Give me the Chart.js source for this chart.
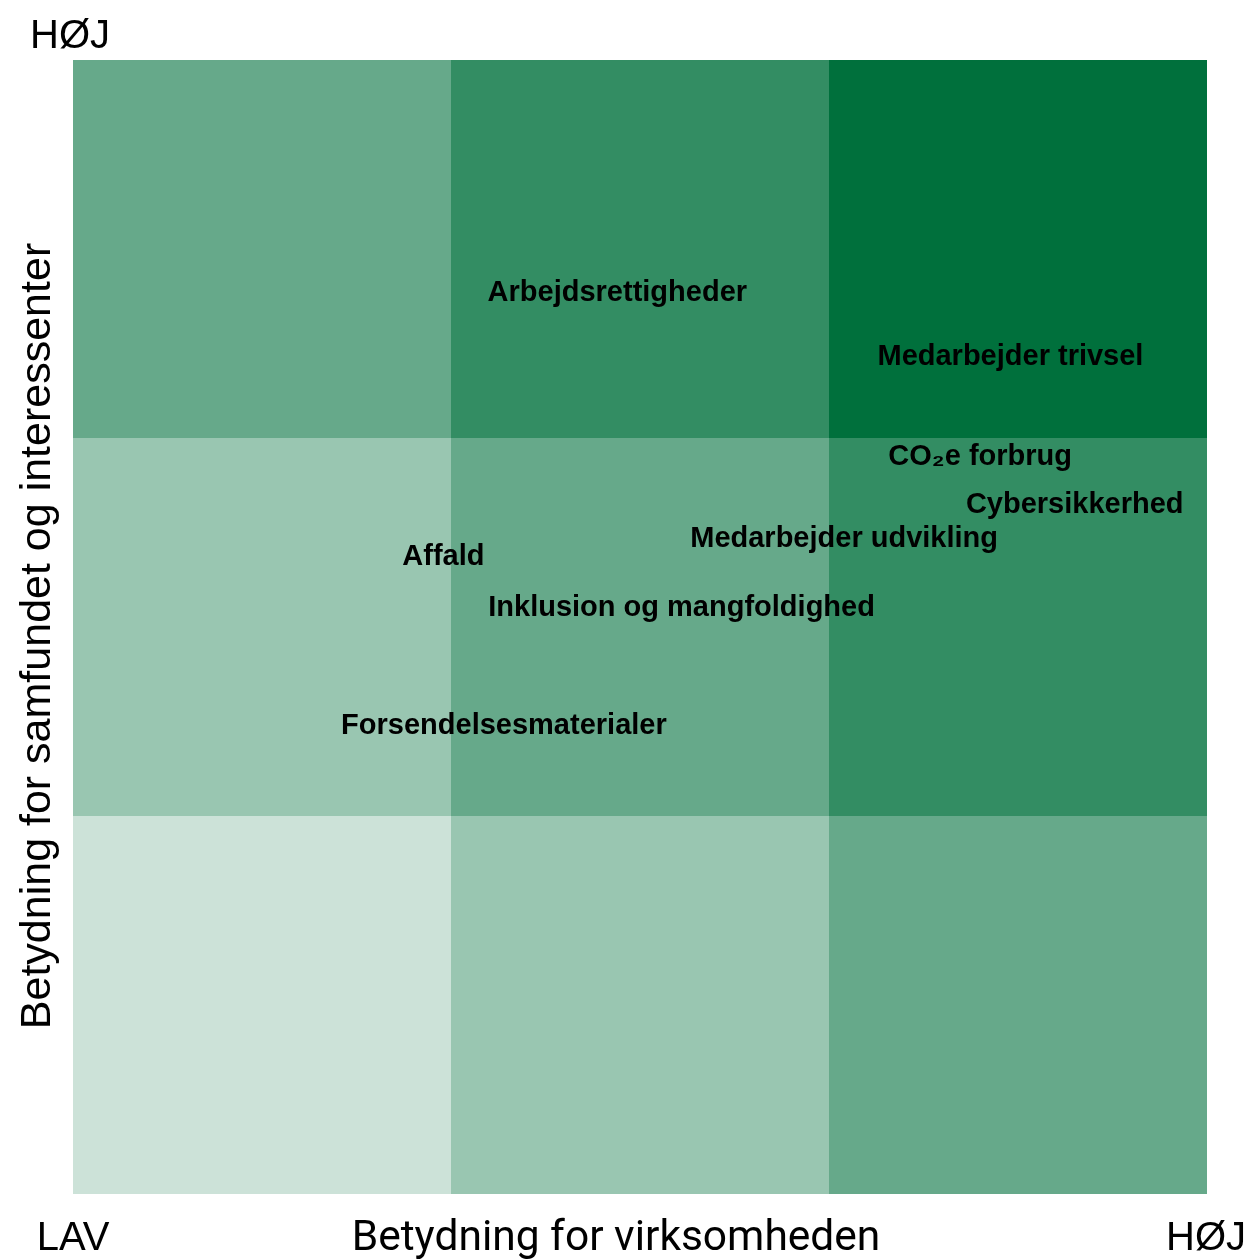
<!DOCTYPE html>
<html>
<head>
<meta charset="utf-8">
<script src="https://cdn.jsdelivr.net/npm/chart.js@4.4.1/dist/chart.umd.min.js"></script>
<style>
  html, body { margin: 0; padding: 0; background: #fff; }
  #wrap { width: 1250px; height: 1259px; }
</style>
</head>
<body>
<div id="wrap"><canvas id="chartCanvas"></canvas></div>
<script>
// materiality matrix data
const topics = [
    'Arbejdsrettigheder',
    'Medarbejder trivsel',
    'CO₂e forbrug',
    'Cybersikkerhed',
    'Medarbejder udvikling',
    'Affald',
    'Inklusion og mangfoldighed',
    'Forsendelsesmaterialer'
];
const businessImpact = [1.44, 2.48, 2.40, 2.65, 2.04, 0.98, 1.61, 1.14];
const societyImpact = [2.384, 2.215, 1.95, 1.823, 1.733, 1.685, 1.551, 1.238];

// grid: 3 x 3 cells, row 0 = bottom
const gridSteps = [0, 1, 2, 3];
const cellOpacity = [
    [0.2, 0.4, 0.6],
    [0.4, 0.6, 0.8],
    [0.6, 0.8, 1.0]
];
const axisEnds = ['LAV', 'HØJ'];
const xTitle = 'Betydning for virksomheden';
const yTitle = 'Betydning for samfundet og interessenter';

const baseGreen = [0, 112, 60];
const fontFamily = "'Liberation Sans', Arial, sans-serif";

const gridPlugin = {
    id: 'gridCells',
    beforeDatasetsDraw(chart) {
        const { ctx, scales: { x, y } } = chart;
        ctx.save();
        for (let r = 0; r < 3; r++) {
            for (let c = 0; c < 3; c++) {
                const x0 = x.getPixelForValue(gridSteps[c]);
                const x1 = x.getPixelForValue(gridSteps[c + 1]);
                const y0 = y.getPixelForValue(gridSteps[r + 1]);
                const y1 = y.getPixelForValue(gridSteps[r]);
                ctx.fillStyle = `rgba(${baseGreen.join(',')},${cellOpacity[r][c]})`;
                ctx.fillRect(x0, y0, x1 - x0, y1 - y0);
            }
        }
        ctx.restore();
    }
};

const labelPlugin = {
    id: 'pointLabels',
    afterDatasetsDraw(chart) {
        const { ctx } = chart;
        const meta = chart.getDatasetMeta(0);
        ctx.save();
        ctx.fillStyle = '#000';
        ctx.font = 'bold 29px ' + fontFamily;
        ctx.textAlign = 'center';
        ctx.textBaseline = 'middle';
        meta.data.forEach((pt, i) => {
            ctx.fillText(topics[i], pt.x, pt.y);
        });
        ctx.restore();
    }
};

const frameTextPlugin = {
    id: 'frameText',
    afterDraw(chart) {
        const { ctx, scales: { x } } = chart;
        ctx.save();
        ctx.fillStyle = '#000';
        ctx.font = '40px ' + fontFamily;
        ctx.textBaseline = 'alphabetic';
        ctx.textAlign = 'center';

        // top of y axis
        ctx.fillText(axisEnds[1], 70, 48);

        // bottom row
        ctx.fillText(axisEnds[0], x.getPixelForValue(0), 1250);
        ctx.fillText(axisEnds[1], 1206, 1250);
        ctx.font = '42.5px Roboto, sans-serif';
        ctx.fillText(xTitle, 616, 1250);

        // rotated y title
        ctx.font = '43px ' + fontFamily;
        ctx.translate(50, 636);
        ctx.rotate(-Math.PI / 2);
        ctx.fillText(yTitle, 0, 0);
        ctx.restore();
    }
};

const canvas = document.getElementById('chartCanvas');
const ctx = canvas.getContext('2d');

new Chart(ctx, {
    type: 'scatter',
    data: {
        datasets: [{
            data: businessImpact.map((v, i) => ({ x: v, y: societyImpact[i] })),
            pointRadius: 0,
            pointHoverRadius: 0
        }]
    },
    options: {
        responsive: true,
        maintainAspectRatio: false,
        animation: false,
        layout: { padding: { left: 73, right: 43, top: 60, bottom: 65 } },
        plugins: { legend: { display: false }, tooltip: { enabled: false } },
        scales: {
            x: { type: 'linear', min: 0, max: 3, display: false },
            y: { type: 'linear', min: 0, max: 3, display: false }
        }
    },
    plugins: [gridPlugin, labelPlugin, frameTextPlugin]
});
</script>
</body>
</html>
